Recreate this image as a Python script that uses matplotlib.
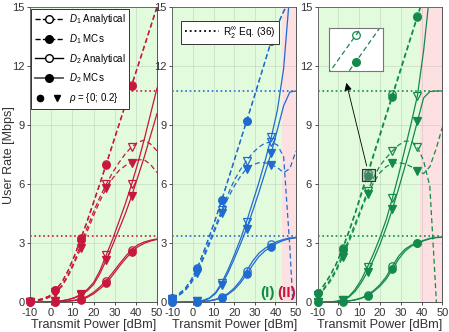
import numpy as np
import matplotlib
matplotlib.use("Agg")
import matplotlib.pyplot as plt
from matplotlib.lines import Line2D
from matplotlib.legend_handler import HandlerTuple
from matplotlib.patches import Rectangle

plt.rcParams['font.family'] = ['Liberation Sans', 'DejaVu Sans']
plt.rcParams['mathtext.fontset'] = 'custom'
plt.rcParams['mathtext.rm'] = 'Liberation Sans'
plt.rcParams['mathtext.it'] = 'Liberation Sans:italic'
plt.rcParams['axes.unicode_minus'] = False

# transmit power grid [dBm]; markers sit at -10, 2, 14, 26, 38
power = [-10, -7, -4, -1, 2, 5, 8, 11, 14, 17, 20, 23, 26, 29, 32, 35, 38, 41, 44, 47, 50]
marker_idx = [0, 4, 8, 12, 16]

# asymptotic rates R2^inf (dotted lines)
r_inf = [10.75, 3.35]

# panel 1 (red)
r_d1_r0_an = [0.05, 0.1, 0.19, 0.32, 0.62, 1.02, 1.62, 2.38, 3.25, 4.15, 5.1, 6.05, 7.05, 8.05, 9.05, 10.05, 11.05, 12.05, 13.05, 14.05, 15.05]
r_d1_r0_mc = [0.05, 0.1, 0.18, 0.3, 0.6, 1.0, 1.6, 2.35, 3.2, 4.1, 5.05, 6.0, 7.0, 8.0, 9.0, 10.0, 11.0, 12.0, 13.0, 14.0, 15.0]
r_d1_r2_an = [0.03, 0.07, 0.14, 0.26, 0.5, 0.85, 1.4, 2.1, 2.95, 3.8, 4.6, 5.35, 6.0, 6.6, 7.1, 7.55, 7.9, 8.15, 8.25, 8.05, 7.7]
r_d1_r2_mc = [0.03, 0.07, 0.13, 0.25, 0.48, 0.8, 1.32, 2.0, 2.75, 3.6, 4.4, 5.15, 5.8, 6.3, 6.7, 6.95, 7.1, 7.25, 7.25, 7.0, 6.6]
r_d2_r0_an = [0, 0, 0.005, 0.01, 0.02, 0.035, 0.06, 0.1, 0.17, 0.3, 0.5, 0.78, 1.1, 1.5, 1.92, 2.32, 2.68, 2.93, 3.07, 3.16, 3.22]
r_d2_r0_mc = [0, 0, 0.005, 0.01, 0.02, 0.03, 0.05, 0.09, 0.14, 0.25, 0.43, 0.68, 0.97, 1.37, 1.8, 2.2, 2.55, 2.83, 3.0, 3.12, 3.2]
r_d2_r2_an = [0, 0.005, 0.01, 0.02, 0.04, 0.08, 0.14, 0.24, 0.4, 0.65, 1.0, 1.6, 2.4, 3.2, 4.1, 5.0, 6.0, 7.1, 8.3, 9.6, 10.9]
r_d2_r2_mc = [0, 0.005, 0.01, 0.02, 0.04, 0.07, 0.13, 0.22, 0.36, 0.58, 0.9, 1.45, 2.15, 2.9, 3.7, 4.5, 5.4, 6.4, 7.4, 8.5, 9.6]

# panel 2 (blue)
b_d1_r0_an = [0.22, 0.42, 0.68, 1.12, 1.72, 2.52, 3.37, 4.27, 5.22, 6.22, 7.22, 8.22, 9.22, 10.22, 11.25, 12.28, 13.3, 14.1, 14.8, 15.4, 16.0]
b_d1_r0_mc = [0.2, 0.4, 0.65, 1.1, 1.7, 2.5, 3.35, 4.25, 5.2, 6.2, 7.2, 8.2, 9.2, 10.2, 11.22, 12.25, 13.28, 14.1, 14.8, 15.4, 16.0]
b_d1_r2_an = [0.15, 0.35, 0.6, 1.0, 1.55, 2.3, 3.1, 3.9, 4.7, 5.5, 6.2, 6.75, 7.2, 7.6, 7.9, 8.1, 8.15, 8.0, 7.4, 2.8, -3.0]
b_d1_r2_mc = [0.15, 0.33, 0.57, 0.95, 1.5, 2.2, 2.95, 3.75, 4.55, 5.3, 5.9, 6.4, 6.8, 7.0, 7.1, 7.1, 7.0, 6.85, 6.6, 6.8, 7.7]
b_d2_r0_an = [0, 0.003, 0.006, 0.012, 0.025, 0.045, 0.08, 0.15, 0.27, 0.45, 0.72, 1.1, 1.6, 2.1, 2.5, 2.75, 2.95, 3.1, 3.2, 3.27, 3.3]
b_d2_r0_mc = [0, 0.003, 0.006, 0.012, 0.022, 0.04, 0.07, 0.13, 0.24, 0.4, 0.64, 0.98, 1.42, 1.9, 2.33, 2.62, 2.83, 3.02, 3.15, 3.24, 3.28]
b_d2_r2_an = [0, 0.005, 0.01, 0.02, 0.05, 0.1, 0.22, 0.5, 1.0, 1.65, 2.4, 3.2, 4.1, 5.1, 6.1, 7.2, 8.4, 9.8, 11.9, 15.8, 22.0]
b_d2_r2_mc = [0, 0.004, 0.01, 0.02, 0.045, 0.09, 0.2, 0.45, 0.9, 1.5, 2.2, 2.95, 3.75, 4.65, 5.6, 6.6, 7.6, 8.8, 10.0, 10.7, 10.75]

# panel 3 (green)
g_d1_r0_an = [0.47, 0.88, 1.38, 1.98, 2.75, 3.62, 4.55, 5.57, 6.58, 7.58, 8.58, 9.58, 10.58, 11.58, 12.58, 13.58, 14.58, 15.58, 16.58, 17.58, 18.58]
g_d1_r0_mc = [0.45, 0.85, 1.35, 1.95, 2.7, 3.55, 4.48, 5.47, 6.45, 7.47, 8.47, 9.47, 10.47, 11.47, 12.48, 13.49, 14.5, 15.5, 16.5, 17.5, 18.5]
g_d1_r2_an = [0.35, 0.7, 1.15, 1.7, 2.45, 3.2, 4.0, 4.8, 5.65, 6.35, 6.95, 7.35, 7.7, 8.0, 8.2, 8.2, 7.9, 7.2, 5.9, 0.3, -6.0]
g_d1_r2_mc = [0.3, 0.65, 1.05, 1.6, 2.3, 3.05, 3.85, 4.7, 5.5, 6.1, 6.6, 6.9, 7.07, 7.1, 7.05, 6.9, 6.68, 6.55, 6.9, 7.8, 8.9]
g_d2_r0_an = [0, 0.005, 0.01, 0.02, 0.04, 0.07, 0.13, 0.22, 0.37, 0.6, 0.9, 1.3, 1.85, 2.35, 2.7, 2.9, 3.02, 3.15, 3.25, 3.3, 3.32]
g_d2_r0_mc = [0, 0.005, 0.01, 0.02, 0.035, 0.065, 0.12, 0.2, 0.34, 0.55, 0.82, 1.18, 1.68, 2.2, 2.6, 2.85, 3.0, 3.13, 3.23, 3.29, 3.31]
g_d2_r2_an = [0, 0.01, 0.02, 0.05, 0.12, 0.3, 0.65, 1.15, 1.8, 2.5, 3.3, 4.2, 5.3, 6.5, 7.8, 9.1, 10.5, 12.8, 15.8, 20.0, 25.0]
g_d2_r2_mc = [0, 0.01, 0.02, 0.045, 0.1, 0.26, 0.55, 1.0, 1.55, 2.2, 2.95, 3.8, 4.75, 5.8, 6.9, 8.0, 9.2, 10.4, 10.72, 10.75, 10.75]

# region boundary between (I) green and (II) pink
region_split = [None, 43.1, 39.4]

red = '#c8173c'
blue = '#1f6bd0'
green = '#138a4c'
bg_green = '#e2fbdc'
bg_pink = '#fde0e2'

panels = [
    (red, [r_d1_r0_an, r_d1_r0_mc, r_d1_r2_an, r_d1_r2_mc, r_d2_r0_an, r_d2_r0_mc, r_d2_r2_an, r_d2_r2_mc]),
    (blue, [b_d1_r0_an, b_d1_r0_mc, b_d1_r2_an, b_d1_r2_mc, b_d2_r0_an, b_d2_r0_mc, b_d2_r2_an, b_d2_r2_mc]),
    (green, [g_d1_r0_an, g_d1_r0_mc, g_d1_r2_an, g_d1_r2_mc, g_d2_r0_an, g_d2_r0_mc, g_d2_r2_an, g_d2_r2_mc]),
]
# (linestyle, marker, filled) for each of the 8 curves
styles = [('--', 'o', False), ('--', 'o', True), ('--', 'v', False), ('--', 'v', True),
          ('-', 'o', False), ('-', 'o', True), ('-', 'v', False), ('-', 'v', True)]

fig = plt.figure(figsize=(4.49, 3.32), dpi=100)
positions = [[0.0668, 0.0895, 0.2829, 0.888],
             [0.3838, 0.0895, 0.2755, 0.888],
             [0.7075, 0.0895, 0.2776, 0.888]]

x = np.array(power)
axes = []
for k, (col, curves) in enumerate(panels):
    ax = fig.add_axes(positions[k])
    axes.append(ax)
    split = region_split[k]
    if split is None:
        ax.axvspan(-10, 50, color=bg_green, zorder=0, lw=0)
    else:
        ax.axvspan(-10, split, color=bg_green, zorder=0, lw=0)
        ax.axvspan(split, 50, color=bg_pink, zorder=0, lw=0)
    for r in r_inf:
        ax.axhline(r, color=col, ls=':', lw=1.2, zorder=2)
    for yv, (ls, mk, filled) in zip(curves, styles):
        y = np.array(yv)
        ax.plot(x, y, color=col, ls=ls, lw=0.9, zorder=3,
                dashes=(4, 2.5) if ls == '--' else (None, None))
        ax.plot(x[marker_idx], y[marker_idx], ls='none', marker=mk, ms=5.3,
                mec=col, mfc=col if filled else 'none', mew=0.9, zorder=4, clip_on=False)
    ax.set_xlim(-10, 50)
    ax.set_ylim(0, 15)
    ax.set_xticks(range(-10, 51, 10))
    ax.set_yticks(range(0, 16, 3))
    ax.grid(True, color='#9aa89a', alpha=0.3, lw=0.6, zorder=1)
    ax.set_axisbelow(False)
    ax.tick_params(labelsize=8, colors='#333333', direction='out', length=2.5, width=0.6, pad=1.5)
    for s in ax.spines.values():
        s.set_color('#555555')
        s.set_linewidth(0.7)
    ax.set_xlabel('Transmit Power [dBm]', fontsize=9.2, color='#333333', labelpad=1)

axes[0].set_ylabel('User Rate [Mbps]', fontsize=9, color='#333333')
axes[0].yaxis.set_label_coords(-0.115, 0.5)

# legend in panel 1
h1 = Line2D([], [], color='k', ls='--', lw=1.0, marker='o', mfc='white', mec='k', ms=5.5)
h2 = Line2D([], [], color='k', ls='--', lw=1.0, marker='o', mfc='k', mec='k', ms=5.5)
h3 = Line2D([], [], color='k', ls='-', lw=1.0, marker='o', mfc='white', mec='k', ms=5.5)
h4 = Line2D([], [], color='#555555', ls='-', lw=1.3, marker='o', mfc='k', mec='k', ms=5.5)
hc = Line2D([], [], ls='none', marker='o', color='k', ms=4.5)
ht = Line2D([], [], ls='none', marker='v', color='k', ms=4.5)
leg = axes[0].legend([h1, h2, h3, h4, (hc, ht)],
                     [r'$D_1$ Analytical', r'$D_1$ MCs', r'$D_2$ Analytical', r'$D_2$ MCs', r'$\rho$ = {0; 0.2}'],
                     handler_map={tuple: HandlerTuple(ndivide=None, pad=0.6)},
                     loc='upper left', bbox_to_anchor=(0.0, 1.0), borderaxespad=0.15,
                     fontsize=7.0, handlelength=2.9, labelspacing=0.6, handletextpad=0.6,
                     fancybox=False, framealpha=1, edgecolor='#333333', borderpad=0.35)
leg.get_frame().set_linewidth(0.7)
leg.set_zorder(10)

# legend in panel 2
hd = Line2D([], [], color='k', ls=':', lw=1.3)
leg2 = axes[1].legend([hd], [r'R$_2^{\infty}$ Eq. (36)'], loc='upper left',
                      bbox_to_anchor=(0.07, 0.955), borderaxespad=0, fontsize=7.2,
                      handlelength=3.4, handletextpad=0.4, fancybox=False, framealpha=1,
                      edgecolor='#333333', borderpad=0.4)
leg2.get_frame().set_linewidth(0.7)
leg2.set_zorder(10)

axes[1].text(36.4, 0.45, '(I)', color=green, fontsize=11, fontweight='bold', ha='center', va='center', zorder=6)
axes[1].text(45.5, 0.45, '(II)', color=red, fontsize=11, fontweight='bold', ha='center', va='center', zorder=6)

# highlight box and inset in panel 3
ax3 = axes[2]
ax3.add_patch(Rectangle((11.2, 6.15), 6.2, 0.65, facecolor='#888888', alpha=0.35,
                        edgecolor='#222222', lw=0.8, zorder=5))
ax3.add_patch(Rectangle((11.2, 6.15), 6.2, 0.65, facecolor='none',
                        edgecolor='#333333', lw=0.8, zorder=6))
ax3.annotate('', xy=(3.5, 11.3), xytext=(13.9, 6.8),
             arrowprops=dict(arrowstyle='-|>', color='k', lw=0.6, mutation_scale=11), zorder=7)

ins = fig.add_axes([0.7327, 0.7861, 0.1203, 0.1295])
ins.set_facecolor('white')
ins.plot(x, g_d1_r0_an, color=green, ls='--', lw=0.9, dashes=(4, 2.5))
ins.plot(x, g_d1_r0_mc, color=green, ls='--', lw=0.9, dashes=(4, 2.5))
ins.plot(x[8], g_d1_r0_an[8], marker='o', mfc='none', mec=green, ms=5.5, mew=0.9)
ins.plot(x[8], g_d1_r0_mc[8], marker='o', mfc=green, mec=green, ms=5.5)
ins.set_xlim(13.45, 14.55)
ins.set_ylim(6.404, 6.614)
ins.set_xticks([])
ins.set_yticks([])
for s in ins.spines.values():
    s.set_color('#777777')
    s.set_linewidth(0.8)

fig.savefig('out.png', dpi=100)
